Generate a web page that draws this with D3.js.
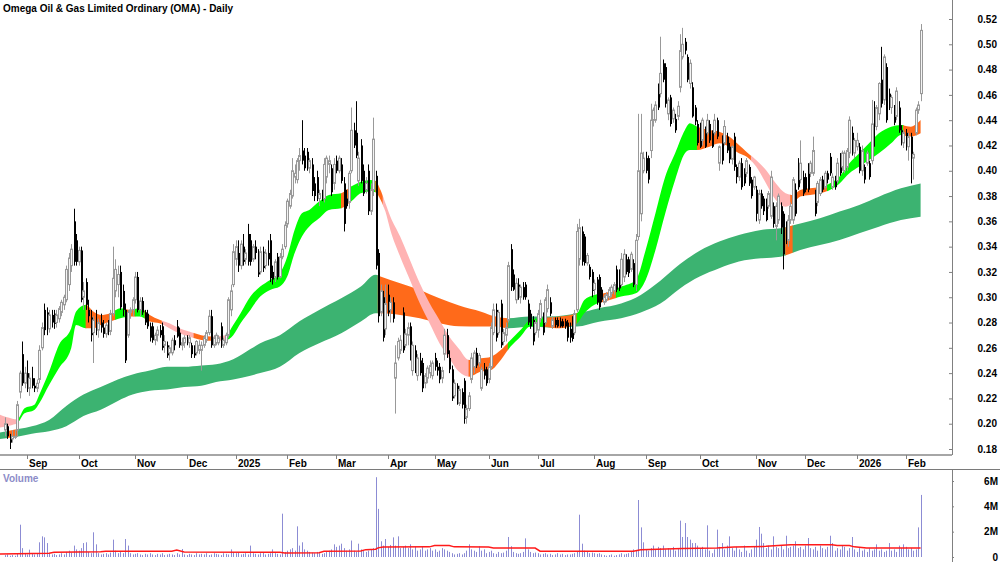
<!DOCTYPE html>
<html>
<head>
<meta charset="utf-8">
<script src="https://cdn.jsdelivr.net/npm/d3@7"></script>
<style>
  body { margin: 0; background: #fff; }
  svg { display: block; font-family: Arial, "Liberation Sans", sans-serif; }
</style>
</head>
<body>
<svg></svg>
<script>
// ---- data ----
let title = "Omega Oil & Gas Limited Ordinary (OMA) - Daily"
let firstDay = "2024-08-20"
let lastDay = "2026-02-10"
let holidays = ["2024-12-25","2024-12-26","2025-01-01","2025-01-27","2025-04-18","2025-04-21",
  "2025-04-25","2025-06-09","2025-12-25","2025-12-26","2026-01-01","2026-01-26"]
let monthLabels = ["Sep","Oct","Nov","Dec","2025","Feb","Mar","Apr","May","Jun","Jul","Aug",
  "Sep","Oct","Nov","Dec","2026","Feb"]
let priceTicks = [0.18,0.20,0.22,0.24,0.26,0.28,0.30,0.32,0.34,0.36,0.38,0.40,0.42,0.44,0.46,0.48,0.50,0.52]
let volumeTicks = [0, 2, 4, 6]
let volumeTickLabels = ["0", "2M", "4M", "6M"]

let opens = [
.195,.198,.19,.188,.19,.195,.225,.255,.232,.24,
.228,.236,.23,.228,.235,.26,.29,.288,.275,.286,
.287,.28,.283,.288,.294,.298,.31,.325,.36,.345,
.328,.337,.30,.312,.29,.284,.272,.28,.274,.28,
.276,.271,.278,.273,.287,.305,.31,.32,.305,.29,
.27,.288,.29,.298,.316,.29,.297,.288,.287,.277,
.277,.266,.27,.274,.277,.262,.262,.256,.256,.266,
.277,.272,.262,.264,.266,.264,.262,.258,.256,.258,
.258,.262,.266,.272,.285,.262,.264,.264,.277,.262,
.264,.27,.29,.31,.33,.335,.325,.34,.33,.35,
.345,.33,.34,.335,.32,.336,.325,.335,.345,.32,
.316,.332,.316,.332,.34,.358,.372,.38,.395,.393,
.408,.416,.412,.415,.402,.405,.39,.395,.378,.382,
.378,.395,.405,.402,.39,.408,.40,.405,.39,.378,
.375,.40,.432,.43,.392,.42,.40,.385,.40,.368,
.385,.396,.335,.288,.30,.275,.302,.29,.296,.236,
.252,.258,.288,.262,.27,.277,.242,.258,.238,.25,
.248,.232,.236,.24,.238,.252,.245,.245,.236,.255,
.27,.252,.243,.222,.23,.216,.225,.234,.205,.212,
.235,.245,.256,.248,.228,.243,.243,.235,.245,.272,
.29,.272,.295,.265,.27,.282,.338,.318,.298,.31,
.30,.308,.31,.295,.287,.282,.272,.274,.283,.282,
.28,.291,.296,.277,.282,.282,.281,.281,.281,.28,
.275,.283,.272,.29,.33,.352,.348,.327,.324,.32,
.306,.314,.316,.306,.296,.298,.30,.303,.305,.322,
.32,.31,.316,.33,.33,.322,.327,.31,.348,.366,
.40,.41,.41,.416,.44,.44,.461,.461,.485,.482,
.445,.458,.441,.441,.443,.466,.49,.502,.49,.469,
.466,.45,.437,.435,.424,.432,.43,.437,.43,.43,
.44,.406,.425,.422,.427,.419,.409,.427,.403,.395,
.406,.40,.398,.403,.393,.387,.385,.361,.382,.378,
.374,.372,.364,.372,.356,.361,.372,.366,.356,.345,
.361,.361,.385,.406,.393,.395,.395,.403,.398,.398,
.382,.375,.382,.393,.387,.398,.411,.387,.393,.392,
.41,.403,.40,.403,.414,.43,.414,.419,.419,.40,
.403,.406,.406,.408,.45,.435,.445,.472,.456,.482,
.461,.45,.45,.443,.45,.432,.422,.43,.419,.427,
.41,.43,.448,.461]

let highs = [
.205,.20,.192,.195,.195,.218,.242,.265,.245,.25,
.24,.245,.236,.235,.262,.28,.295,.292,.29,.29,
.29,.29,.293,.298,.302,.325,.335,.342,.37,.35,
.34,.34,.312,.315,.298,.29,.285,.29,.283,.287,
.282,.28,.282,.29,.34,.33,.325,.325,.31,.295,
.29,.292,.30,.32,.32,.30,.30,.29,.29,.28,
.28,.272,.277,.278,.28,.27,.265,.262,.268,.27,
.282,.276,.268,.27,.27,.27,.264,.262,.266,.266,
.265,.27,.274,.29,.29,.27,.272,.27,.28,.268,
.272,.30,.31,.342,.345,.345,.345,.35,.338,.358,
.35,.342,.345,.338,.34,.34,.338,.345,.35,.325,
.33,.335,.335,.342,.36,.378,.385,.41,.405,.41,
.418,.44,.418,.418,.41,.41,.395,.40,.385,.385,
.41,.412,.412,.405,.41,.412,.412,.41,.395,.385,
.40,.45,.438,.455,.415,.425,.405,.395,.405,.39,
.442,.40,.338,.31,.305,.31,.31,.30,.30,.262,
.268,.27,.292,.275,.28,.28,.265,.262,.255,.256,
.252,.24,.246,.25,.25,.256,.25,.248,.245,.275,
.275,.258,.246,.235,.232,.23,.228,.236,.215,.225,
.256,.258,.26,.256,.245,.248,.245,.248,.28,.295,
.295,.29,.298,.275,.28,.328,.342,.322,.315,.315,
.31,.312,.312,.298,.29,.285,.282,.29,.298,.288,
.30,.31,.30,.285,.284,.284,.284,.283,.283,.282,
.28,.285,.29,.358,.362,.356,.35,.335,.326,.322,
.314,.316,.318,.308,.302,.304,.308,.31,.312,.325,
.322,.335,.338,.334,.332,.336,.33,.35,.445,.445,
.415,.415,.412,.453,.45,.455,.469,.506,.488,.485,
.458,.46,.45,.445,.455,.508,.513,.505,.492,.488,
.47,.452,.44,.438,.442,.435,.445,.44,.432,.445,
.442,.42,.428,.44,.43,.422,.42,.43,.405,.408,
.41,.402,.41,.405,.395,.396,.388,.385,.385,.38,
.378,.384,.40,.375,.375,.382,.375,.368,.36,.365,
.375,.395,.39,.41,.424,.40,.398,.406,.408,.427,
.385,.392,.395,.396,.40,.40,.414,.398,.396,.41,
.414,.416,.416,.418,.443,.435,.426,.43,.422,.42,
.405,.416,.408,.456,.455,.452,.47,.498,.492,.485,
.465,.46,.452,.466,.455,.436,.432,.433,.43,.43,
.415,.45,.455,.516]

let lows = [
.19,.188,.18,.185,.188,.19,.22,.23,.228,.225,
.222,.228,.225,.225,.232,.258,.27,.27,.272,.276,
.275,.276,.28,.285,.29,.296,.305,.32,.325,.325,
.325,.296,.29,.29,.28,.265,.248,.27,.268,.272,
.268,.268,.27,.27,.285,.30,.30,.29,.285,.248,
.268,.283,.285,.295,.288,.285,.286,.278,.275,.265,
.264,.262,.265,.268,.258,.256,.252,.25,.254,.258,
.268,.26,.258,.26,.262,.26,.252,.252,.254,.255,
.242,.26,.264,.27,.26,.26,.262,.262,.26,.26,
.262,.268,.285,.308,.325,.32,.322,.325,.326,.325,
.325,.328,.33,.316,.318,.32,.322,.325,.312,.31,
.312,.314,.315,.33,.338,.355,.37,.378,.39,.39,
.40,.405,.40,.40,.398,.38,.376,.376,.372,.376,
.375,.39,.398,.38,.385,.398,.398,.39,.352,.37,
.37,.398,.418,.41,.388,.39,.38,.382,.365,.365,
.38,.322,.28,.285,.265,.27,.285,.28,.28,.208,
.25,.255,.256,.26,.262,.25,.238,.24,.234,.238,
.225,.228,.232,.236,.235,.242,.238,.232,.232,.25,
.252,.24,.218,.22,.215,.214,.212,.20,.20,.21,
.232,.24,.244,.245,.226,.235,.23,.232,.243,.27,
.265,.27,.26,.262,.265,.28,.305,.305,.295,.298,
.295,.298,.298,.278,.275,.262,.27,.268,.28,.27,
.278,.288,.285,.275,.276,.276,.276,.276,.275,.265,
.264,.265,.27,.288,.325,.325,.325,.325,.314,.30,
.302,.294,.29,.296,.294,.296,.298,.30,.302,.304,
.305,.308,.312,.318,.316,.32,.308,.305,.345,.36,
.398,.398,.39,.41,.435,.438,.448,.458,.47,.45,
.44,.435,.438,.43,.44,.462,.488,.492,.47,.465,
.442,.436,.42,.418,.42,.418,.428,.422,.418,.428,
.425,.40,.405,.42,.414,.406,.405,.40,.39,.392,
.385,.388,.395,.388,.378,.385,.36,.358,.37,.365,
.36,.37,.362,.355,.345,.358,.35,.322,.342,.34,
.358,.358,.364,.385,.39,.38,.383,.383,.395,.396,
.364,.372,.38,.383,.385,.39,.396,.385,.385,.39,
.396,.40,.398,.40,.41,.412,.41,.416,.398,.396,
.39,.404,.393,.405,.419,.432,.44,.45,.452,.438,
.448,.445,.436,.44,.43,.42,.418,.416,.408,.39,
.393,.428,.445,.455]

let closes = [
.20,.19,.185,.19,.19,.215,.24,.232,.24,.228,
.236,.23,.228,.232,.258,.276,.274,.275,.286,.28,
.279,.286,.291,.296,.30,.322,.331,.338,.328,.328,
.337,.298,.305,.294,.285,.27,.282,.274,.28,.276,
.271,.278,.273,.287,.315,.322,.318,.292,.29,.25,
.288,.29,.298,.316,.29,.297,.288,.28,.277,.268,
.266,.27,.274,.27,.26,.265,.254,.26,.266,.262,
.269,.262,.264,.268,.264,.268,.255,.254,.265,.262,
.262,.268,.272,.285,.262,.268,.27,.268,.262,.266,
.27,.298,.305,.336,.34,.325,.342,.328,.335,.328,
.328,.34,.335,.318,.336,.323,.335,.33,.315,.314,
.328,.316,.332,.338,.357,.376,.382,.40,.398,.408,
.412,.408,.402,.403,.408,.384,.38,.378,.382,.378,
.405,.41,.408,.383,.405,.40,.41,.392,.358,.372,
.398,.432,.42,.412,.41,.392,.382,.39,.368,.385,
.425,.325,.285,.305,.268,.295,.288,.296,.283,.248,
.265,.266,.258,.271,.276,.253,.262,.245,.252,.24,
.228,.238,.244,.246,.248,.245,.242,.235,.242,.27,
.255,.243,.22,.232,.218,.227,.215,.204,.212,.222,
.252,.256,.246,.254,.243,.238,.232,.245,.276,.29,
.268,.288,.262,.272,.276,.325,.308,.306,.311,.30,
.308,.30,.30,.28,.277,.265,.28,.287,.295,.272,
.298,.306,.287,.282,.278,.277,.277,.277,.277,.268,
.268,.267,.287,.352,.355,.328,.327,.333,.316,.305,
.311,.296,.292,.298,.30,.302,.306,.308,.31,.306,
.307,.33,.334,.32,.319,.334,.31,.345,.40,.414,
.41,.40,.393,.44,.448,.452,.45,.477,.472,.453,
.456,.437,.448,.432,.451,.495,.50,.495,.472,.485,
.443,.439,.422,.419,.44,.419,.44,.424,.419,.44,
.427,.419,.408,.435,.416,.409,.419,.403,.395,.406,
.387,.39,.408,.39,.38,.395,.366,.382,.372,.368,
.361,.382,.395,.358,.372,.38,.355,.334,.345,.361,
.372,.393,.366,.387,.406,.382,.385,.385,.406,.416,
.366,.39,.393,.385,.398,.393,.398,.395,.387,.406,
.398,.414,.414,.416,.44,.414,.424,.424,.40,.416,
.393,.414,.395,.437,.44,.45,.469,.453,.49,.44,
.45,.458,.438,.463,.432,.422,.43,.424,.427,.41,
.413,.448,.452,.511]

// volume in millions of shares
let volumes = [
.15,.2,.1,.15,.1,.3,2.55,.7,.25,.2,
.58,.3,.2,.25,1.16,1.63,1.55,1.1,.3,.2,
.25,.15,.2,.3,.2,.4,.5,.35,.9,.6,
.5,.7,1.1,1.16,.4,.3,1.95,1.0,.3,.2,
.25,.3,.2,.35,1.37,.5,.3,.4,.3,1.42,
.9,.3,.2,.25,.3,.2,.15,.25,.2,.3,
.2,.15,.25,.2,.3,.15,.2,.25,.2,.15,
.3,.2,.63,.2,.15,.25,.2,.15,.3,.2,
.25,.2,.3,.15,.2,.3,.25,.2,.15,.3,
.25,.2,.6,.4,.3,.35,.2,.25,.3,.2,
.9,.3,.25,.2,.3,.35,.2,.25,.3,.6,
.3,.25,.2,3.42,.4,.5,.6,.7,.5,2.42,
.9,1.16,.6,.5,.4,.35,.3,.4,.3,.25,
.3,.4,.5,.6,1.0,.8,.9,1.05,.7,.5,
.6,1.3,.5,.4,1.05,.6,.5,.4,.5,.6,
.7,6.3,3.8,1.24,.9,1.42,.8,.95,1.55,.9,
1.63,.7,.8,.9,.7,1.0,.6,.8,.5,.6,
.85,.5,.6,.7,.5,.6,.4,.5,.7,.6,
.5,.4,.3,.2,.25,.3,.2,.3,.5,1.0,
.6,.5,.4,.85,.5,.6,.3,.4,.5,.3,
.25,.4,.3,.35,.5,1.58,.85,.4,.3,.25,
.3,.4,1.47,.6,.4,.3,.35,.3,.2,.25,
.3,.2,.25,.15,.2,.3,.2,.25,.15,.2,
.2,.25,.3,.4,3.34,1.05,.5,.4,.3,.35,
.3,.25,.3,.2,.15,.1,.15,.2,.1,.15,
.2,.3,.2,.25,.3,.4,.6,.5,4.5,2.34,
1.16,.6,.5,.7,.9,.6,.8,.7,.9,.6,
.7,.6,.8,.5,.7,2.87,1.58,2.68,1.58,1.37,
1.1,1.1,.9,.7,.8,.6,2.5,.5,.3,.6,
2.16,.8,1.1,.6,.9,1.63,.7,.5,.8,.6,
.4,.9,.5,.3,.6,.8,1.37,2.37,1.84,1.1,
.7,.9,.6,1.63,.8,.7,.9,.6,1.68,.7,
.8,.9,1.24,.7,.8,.6,.9,1.5,.7,.6,
.8,.5,.9,.7,.6,.8,1.68,1.1,.5,.7,
.6,.9,.8,.5,.7,1.58,.6,.4,.7,.5,
.6,.4,.7,.5,.6,1.0,.5,.6,.4,.5,
1.1,.5,.6,.4,.9,.7,1.0,.8,.6,.7,
.5,.6,2.34,4.9]

// volume average line (bar index, millions)
let volAvgIdx = [-2,18,20,39,41,68,70,73,112,114,128,130,145,147,151,152,154,173,175,181,183,197,199,216,218,256,259,276,290,297,310,320,337,339,344,346,351,373]
let volAvg = [.24,.3,.37,.42,.45,.45,.55,.4,.37,.32,.33,.45,.47,.58,.62,.72,.79,.8,.9,.9,.8,.78,.71,.71,.46,.45,.58,.68,.71,.79,.84,.97,.97,.9,.9,.8,.71,.71]

// short-term MA band edges (bar index, upper, lower)
let shortIdx = [-2,3,5,8,12,14,18,22,27,29,33,36,39,43,47,51,55,59,63,67,71,75,80,84,90,93,96,100,104,108,
  112,115,118,121,124,128,132,137,141,145,149,151,153,155,157,161,165,169,173,177,181,185,189,194,198,202,206,210,214,218,
  226,233,236,240,244,251,257,261,265,269,273,277,279,282,287,291,295,299,302,306,310,314,318,321,324,328,332,336,340,344,
  348,352,356,361,365,369,373]
let shortHi = [.207,.204,.2035,.2122,.2149,.2228,.2412,.2623,.2755,.2887,.294,.2887,.286,.2874,.2913,.29,.2913,.286,.2821,.2794,
  .2755,.2729,.27,.269,.27,.2781,.2873,.3005,.3084,.3137,.319,.3321,.3532,.3664,.369,.3756,.3809,.3822,.3875,.3914,
  .3927,.392,.3848,.3743,.3638,.348,.3295,.311,.2952,.282,.2689,.259,.2504,.2517,.253,.2583,.2662,.2741,.282,.2834,
  .2847,.2873,.2978,.3018,.3031,.3084,.3137,.3374,.3664,.3954,.4138,.4322,.4375,.4349,.4322,.4309,.427,.4204,.4151,.4085,
  .4006,.3901,.3822,.3809,.3848,.3861,.3874,.39,.3954,.4059,.4138,.4217,.4296,.4349,.4362,.4349,.4401]
let shortLo = [.197,.199,.2003,.2083,.2109,.2162,.2307,.2439,.2597,.2781,.2755,.2755,.2781,.2808,.2834,.2847,.2847,.2808,.2794,.2755,
  .2715,.2689,.2662,.2655,.266,.27,.2794,.29,.3005,.3058,.3084,.3163,.3348,.348,.3559,.3624,.369,.3703,.3756,.3822,
  .3836,.383,.377,.3677,.3532,.3321,.3137,.2952,.2794,.2636,.2518,.241,.2372,.2412,.2425,.2504,.261,.2688,.2768,.2768,
  .2754,.2794,.2873,.2939,.2965,.3005,.3031,.3137,.3374,.3664,.3927,.4138,.4164,.4164,.419,.4217,.419,.4138,.4112,.4033,
  .3901,.3769,.3716,.3743,.3796,.3809,.3822,.3848,.39,.398,.4033,.4085,.4138,.4217,.4283,.427,.4296]
// [from index, to index, trend state]
let shortStates = [[-2,5,"down"],[5,33,"up"],[33,45,"mixed"],[45,49,"up"],[49,53,"mixed"],[53,57,"up"],[57,64,"mixed"],
  [64,77,"down"],[77,84,"mixed"],[84,90,"down"],[90,137,"up"],[137,141,"mixed"],[141,151,"up"],[151,154,"mixed"],
  [154,189,"down"],[189,205,"mixed"],[205,220,"up"],[220,233,"mixed"],[233,242,"up"],[242,249,"mixed"],[249,282,"up"],
  [282,304,"mixed"],[304,320,"down"],[320,335,"mixed"],[335,366,"up"],[366,373,"mixed"]]

// long-term MA band edges
let longIdx = [-2,6,11,18,25,32,39,46,52,59,66,73,80,86,93,100,104,112,120,128,137,145,151,153,161,169,177,185,194,200,
  205,214,222,233,242,251,259,267,275,283,291,299,308,316,324,332,340,348,356,365,373]
let longHi = [.193,.196,.198,.203,.214,.223,.229,.235,.239,.242,.245,.245,.246,.247,.251,.259,.2636,.27,.281,.29,
  .2992,.3084,.3177,.3163,.311,.3058,.2992,.2935,.2886,.2847,.2834,.2847,.2847,.2873,.2913,.295,.3018,.313,.3262,.3367,
  .344,.3492,.3532,.3545,.3584,.3624,.3677,.3729,.3795,.3861,.39]
let longLo = [.188,.19,.192,.194,.198,.206,.211,.218,.223,.226,.227,.229,.23,.233,.235,.238,.24,.245,.256,.2636,
  .2715,.2808,.2873,.2873,.286,.2834,.2794,.277,.2768,.2768,.2754,.2768,.276,.2768,.2807,.2834,.288,.295,.307,.3163,
  .3229,.3282,.3308,.3321,.3374,.3413,.3453,.3506,.3558,.361,.3637]
let longStates = [[-2,1,"up"],[1,5,"mixed"],[5,152,"up"],[152,205,"mixed"],[205,318,"up"],[318,321,"mixed"],[321,373,"up"]]

// ---- layout ----
let width = 1000
let height = 562
let axisX = 952
let panelBottom = 455
let stripBottom = 469

let shortColors = { up: "#00ff00", mixed: "#ff6a1a", down: "#ffb3b3" }
let longColors = { up: "#3cb371", mixed: "#ff6a1a", down: "#ffb3b3" }

let svg = d3.select('svg')
let days, n, bars
let xScale, yScale, vScale

// function: drawCanvas
let drawCanvas = () => {
  svg.attr('width', width).attr('height', height)
  svg.append('rect').attr('width', width).attr('height', height).attr('fill', '#fff')
  let defs = svg.append('defs')
  defs.append('clipPath').attr('id', 'priceClip')
    .append('rect').attr('x', 0).attr('y', 0).attr('width', axisX).attr('height', panelBottom)
}

// function: genDays - trading days between first and last bar
let genDays = () => {
  let parse = d3.timeParse('%Y-%m-%d')
  let fmt = d3.timeFormat('%Y-%m-%d')
  days = d3.timeDay.range(parse(firstDay), d3.timeDay.offset(parse(lastDay), 1))
    .filter(d => d.getDay() !== 0 && d.getDay() !== 6 && !holidays.includes(fmt(d)))
  n = Math.min(days.length, closes.length)
  bars = d3.range(n).map(i => ({
    i: i, date: days[i], o: opens[i], h: highs[i], l: lows[i], c: closes[i], v: volumes[i]
  }))
}

// function: genScales
let genScales = () => {
  xScale = d3.scaleLinear().domain([0, n - 1]).range([4.9, 920.6])
  yScale = d3.scaleLinear().domain([0.18, 0.52]).range([449, 19])
  vScale = d3.scaleLinear().domain([0, 6]).range([557, 481])
}

// function: drawBand - area between two MA edges, coloured by trend state
let drawBand = (g, idx, hi, lo, states, colors, name) => {
  let pts = idx.map((d, k) => ({ i: d, hi: hi[k], lo: lo[k] }))
  let area = d3.area()
    .x(d => xScale(d.i))
    .y0(d => yScale(d.lo))
    .y1(d => yScale(d.hi))
    .curve(d3.curveMonotoneX)
  let defs = svg.select('defs')
  states.forEach((s, k) => {
    let id = name + 'Clip' + k
    let x0 = k === 0 ? 0 : xScale(s[0]) - 0.3
    let x1 = k === states.length - 1 ? axisX : xScale(s[1]) + 0.3
    defs.append('clipPath').attr('id', id)
      .append('rect').attr('x', x0).attr('y', 0).attr('width', x1 - x0).attr('height', panelBottom)
    g.append('path')
      .attr('d', area(pts))
      .attr('fill', colors[s[2]])
      .attr('clip-path', 'url(#' + id + ')')
  })
}

// function: drawCandles
let drawCandles = (g) => {
  let cx = (i) => Math.round(xScale(i)) + 0.5
  let up = (d) => d.c >= d.o
  g.selectAll('line.wick')
    .data(bars)
    .enter()
    .append('line')
    .attr('class', 'wick')
    .attr('x1', d => cx(d.i))
    .attr('x2', d => cx(d.i))
    .attr('y1', d => yScale(d.h))
    .attr('y2', d => yScale(d.l))
    .attr('stroke', d => up(d) ? '#999' : '#000')
    .attr('stroke-width', 1)
  g.selectAll('rect.body')
    .data(bars)
    .enter()
    .append('rect')
    .attr('class', 'body')
    .attr('x', d => up(d) ? cx(d.i) - 1 : cx(d.i) - 0.5)
    .attr('width', 2)
    .attr('y', d => yScale(Math.max(d.o, d.c)))
    .attr('height', d => Math.max(1, yScale(Math.min(d.o, d.c)) - yScale(Math.max(d.o, d.c))))
    .attr('fill', d => up(d) ? '#f4f4f4' : '#000')
    .attr('stroke', d => up(d) ? '#999' : 'none')
    .attr('stroke-width', 1)
}

// function: drawVolume
let drawVolume = () => {
  let cx = (i) => Math.round(xScale(i)) + 0.5
  svg.append('g').selectAll('line')
    .data(bars)
    .enter()
    .append('line')
    .attr('x1', d => cx(d.i))
    .attr('x2', d => cx(d.i))
    .attr('y1', vScale(0))
    .attr('y2', d => vScale(d.v))
    .attr('stroke', '#8c8cd4')
    .attr('stroke-width', 1)

  let avgPts = volAvgIdx.map((d, k) => ({ i: d, v: volAvg[k] }))
  svg.append('path')
    .attr('d', d3.line().x(d => xScale(d.i)).y(d => vScale(d.v))(avgPts))
    .attr('fill', 'none')
    .attr('stroke', '#ff1a1a')
    .attr('stroke-width', 1.5)

  svg.append('text')
    .attr('x', 3)
    .attr('y', 482)
    .attr('font-size', 10)
    .attr('font-weight', 'bold')
    .attr('fill', '#8c8cc8')
    .text('Volume')
}

// function: drawAxes
let drawAxes = () => {
  // price axis on the right
  let yAxis = d3.axisRight(yScale).tickValues(priceTicks).tickFormat(d3.format('.2f')).tickSize(0).tickPadding(0)
  let ya = svg.append('g').attr('transform', 'translate(' + axisX + ',0)').call(yAxis)
  ya.select('.domain').remove()
  ya.selectAll('text')
    .attr('x', 45)
    .attr('text-anchor', 'end')
    .attr('font-size', 10)
    .attr('font-weight', 'bold')
    .attr('font-family', 'Arial, "Liberation Sans", sans-serif')
    .attr('fill', '#000')
  ya.selectAll('.tick').append('line')
    .attr('x1', -3).attr('x2', 0).attr('stroke', '#808080')

  // volume axis
  let vAxis = d3.axisRight(vScale).tickValues(volumeTicks)
    .tickFormat((d, k) => volumeTickLabels[k]).tickSize(0).tickPadding(0)
  let va = svg.append('g').attr('transform', 'translate(' + axisX + ',0)').call(vAxis)
  va.select('.domain').remove()
  va.selectAll('text')
    .attr('x', 46)
    .attr('text-anchor', 'end')
    .attr('font-size', 10)
    .attr('font-weight', 'bold')
    .attr('font-family', 'Arial, "Liberation Sans", sans-serif')
    .attr('fill', '#000')
  va.selectAll('.tick').append('line')
    .attr('x1', 0).attr('x2', 2).attr('stroke', '#808080')

  // frame lines
  svg.append('line').attr('x1', axisX + 0.5).attr('x2', axisX + 0.5).attr('y1', 0).attr('y2', panelBottom)
    .attr('stroke', '#808080')
  svg.append('line').attr('x1', axisX + 0.5).attr('x2', axisX + 0.5).attr('y1', stripBottom).attr('y2', height)
    .attr('stroke', '#808080')
  svg.append('line').attr('x1', 0).attr('x2', axisX).attr('y1', panelBottom).attr('y2', panelBottom)
    .attr('stroke', '#a6a6a6').attr('stroke-width', 2)
  svg.append('line').attr('x1', 0).attr('x2', width).attr('y1', stripBottom + 0.5).attr('y2', stripBottom + 0.5)
    .attr('stroke', '#7a7a7a')

  // month ticks at the first trading day of each month
  let starts = bars.filter((d, k) => k > 0 && d.date.getMonth() !== bars[k - 1].date.getMonth())
  let mg = svg.append('g')
  starts.forEach((d, k) => {
    let x = Math.round(xScale(d.i)) + 0.5
    mg.append('line').attr('x1', x).attr('x2', x).attr('y1', panelBottom).attr('y2', panelBottom + 4)
      .attr('stroke', '#808080')
    mg.append('text')
      .attr('x', x + 1.5)
      .attr('y', 467)
      .attr('font-size', 10)
      .attr('font-weight', 'bold')
      .text(monthLabels[k] || '')
  })

  svg.append('text')
    .attr('x', 3)
    .attr('y', 12)
    .attr('font-size', 10)
    .attr('font-weight', 'bold')
    .text(title)
}

drawCanvas()
genDays()
genScales()
let priceG = svg.append('g').attr('clip-path', 'url(#priceClip)')
drawBand(priceG, longIdx, longHi, longLo, longStates, longColors, 'long')
drawBand(priceG, shortIdx, shortHi, shortLo, shortStates, shortColors, 'short')
drawCandles(priceG)
drawVolume()
drawAxes()
</script>
</body>
</html>
